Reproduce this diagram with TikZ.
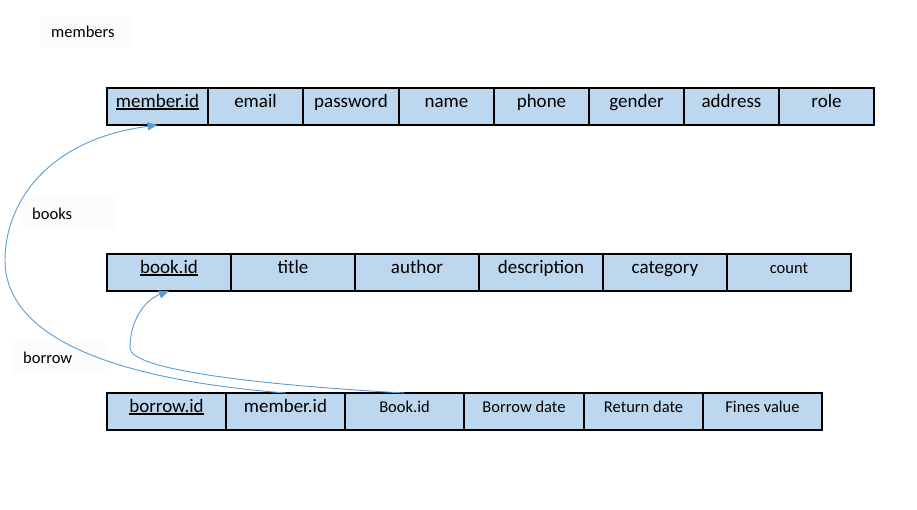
\documentclass[tikz,border=0pt]{standalone}
\usepackage{fontspec}
\setmainfont{Carlito}
\usepackage{tikz}
\usetikzlibrary{arrows.meta,positioning}
\definecolor{cellblue}{RGB}{189,215,238}
\definecolor{linkblue}{RGB}{91,155,213}
\newcommand{\pkey}[1]{\setbox0\hbox{#1}\usebox0\llap{\rule[-3pt]{\wd0}{1.8pt}}}

\begin{document}
\begin{tikzpicture}[
        x=1pt, y=-1pt,
        cell/.style={draw, fill=cellblue, line width=1.1pt, inner sep=0pt, outer sep=0pt, text height=19pt, text depth=18pt, font=\fontsize{19}{22}\selectfont},
        smallcell/.style={cell, font=\fontsize{16.5}{19}\selectfont},
        lbl/.style={fill=black!1, inner xsep=10pt, text width=73pt, minimum height=32pt, anchor=west, font=\fontsize{16.5}{19}\selectfont},
        link/.style={draw=linkblue, line width=0.9pt, -{Triangle[length=10pt,width=8pt]}}
    ]
        \useasboundingbox (0,0) rectangle (917,509);

        % Table names
        \node[lbl] (lmembers) at (41,32) {members};
        \node[lbl] (lbooks) at (22,214) {books};
        \node[lbl] (lborrow) at (13,358) {borrow};

        % members
        \node[cell, minimum width=101pt, anchor=north west] (mid) at (107,88) {\pkey{member.id}};
        \node[cell, minimum width=95pt, right=0pt of mid] (memail) {email};
        \node[cell, minimum width=96pt, right=0pt of memail] (mpass) {password};
        \node[cell, minimum width=95pt, right=0pt of mpass] (mname) {name};
        \node[cell, minimum width=95pt, right=0pt of mname] (mphone) {phone};
        \node[cell, minimum width=95pt, right=0pt of mphone] (mgender) {gender};
        \node[cell, minimum width=95pt, right=0pt of mgender] (maddr) {address};
        \node[cell, minimum width=95pt, right=0pt of maddr] (mrole) {role};

        % books
        \node[cell, minimum width=124pt, anchor=north west] (bkid) at (107,254) {\pkey{book.id}};
        \node[cell, minimum width=124pt, right=0pt of bkid] (bktitle) {title};
        \node[cell, minimum width=124pt, right=0pt of bktitle] (bkauthor) {author};
        \node[cell, minimum width=124pt, right=0pt of bkauthor] (bkdesc) {description};
        \node[cell, minimum width=124pt, right=0pt of bkdesc] (bkcat) {category};
        \node[smallcell, minimum width=124pt, right=0pt of bkcat] (bkcount) {count};

        % borrow
        \node[cell, minimum width=119pt, anchor=north west] (bid) at (107,393) {\pkey{borrow.id}};
        \node[cell, minimum width=119pt, right=0pt of bid] (bmid) {member.id};
        \node[smallcell, minimum width=119pt, right=0pt of bmid] (bbook) {Book.id};
        \node[smallcell, minimum width=120pt, right=0pt of bbook] (bdate) {Borrow date};
        \node[smallcell, minimum width=119pt, right=0pt of bdate] (rdate) {Return date};
        \node[smallcell, minimum width=119pt, right=0pt of rdate] (fines) {Fines value};

        % Foreign keys
        \draw[link] (bmid.north) .. controls (120,380) and (5,340) .. (5,260)
            .. controls (5,205) and (45,140) .. (mid.south);
        \draw[link] (bbook.north) .. controls (260,385) and (130,370) .. (130,348)
            .. controls (130,320) and (145,300) .. (bkid.south);
    \end{tikzpicture}
\end{document}
